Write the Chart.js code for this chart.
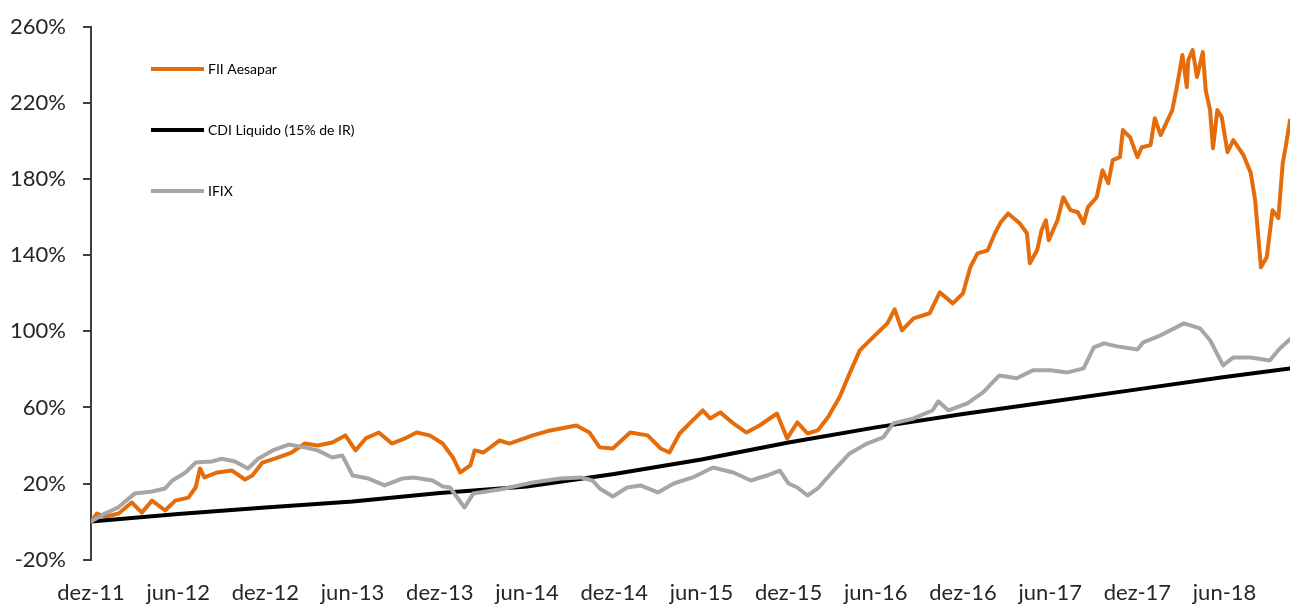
<!DOCTYPE html>
<html>
<head>
<meta charset="utf-8">
<script src="https://cdn.jsdelivr.net/npm/chart.js@4.4.1/dist/chart.umd.min.js"></script>
<style>
  html, body { margin: 0; padding: 0; background: #fff; }
  #wrap { width: 1290px; height: 606px; position: relative; }
</style>
</head>
<body>
<div id="wrap"><canvas id="chart"></canvas></div>
<script>
// x = months since dez-11, y = accumulated return in %

// Tick labels on the x axis, one every 6 months
const tickLabels = ['dez-11', 'jun-12', 'dez-12', 'jun-13', 'dez-13', 'jun-14', 'dez-14',
    'jun-15', 'dez-15', 'jun-16', 'dez-16', 'jun-17', 'dez-17', 'jun-18'];

const seriesNames = ['FII Aesapar', 'CDI Liquido (15% de IR)', 'IFIX'];
const seriesColors = ['#E46C0A', '#000000', '#A6A6A6'];

// FII Aesapar
const fiiSeries = [
    [0, 0], [0.4, 4.2], [1.0, 2.6], [1.9, 4.2], [2.8, 10], [3.5, 4.7], [4.2, 11], [5.1, 5.8],
    [5.8, 11], [6.7, 12.6], [7.2, 17.9], [7.5, 27.9], [7.8, 23.2], [8.7, 25.8], [9.7, 26.8],
    [10.6, 22.1], [11.1, 24.2], [11.8, 31], [12.7, 33.2], [13.8, 36.3], [14.7, 41], [15.6, 40],
    [16.6, 41.6], [17.5, 45.3], [18.2, 37.4], [18.9, 43.7], [19.8, 46.8], [20.7, 41], [21.6, 43.7],
    [22.4, 46.8], [23.3, 45.3], [24.2, 41], [24.9, 33.7], [25.4, 25.8], [26.1, 29.5], [26.4, 37.4],
    [27.0, 36.3], [28.1, 42.6], [28.8, 41], [30.4, 45.3], [31.6, 47.9], [33.4, 50.5], [34.3, 46.8],
    [35.0, 39], [35.9, 38.4], [37.1, 46.8], [38.3, 45.3], [39.2, 38.4], [39.8, 36.3], [40.5, 46.3],
    [41.4, 53.2], [42.1, 58.4], [42.6, 54.2], [43.3, 57.4], [44.2, 51.6], [45.1, 46.8], [46.0, 50.5],
    [47.2, 56.8], [47.9, 43.7], [48.6, 52.1], [49.3, 46.3], [50.0, 47.9], [50.7, 54.7], [51.5, 65.3],
    [52.2, 77.9], [52.9, 90], [53.8, 96.8], [54.8, 104.2], [55.3, 111.6], [55.8, 100.5], [56.6, 106.8],
    [57.7, 109.5], [58.4, 120.5], [59.3, 114.7], [60.0, 120], [60.5, 133.7], [61.0, 141], [61.7, 142.6],
    [62.2, 151.6], [62.6, 157.4], [63.1, 162], [63.9, 156.8], [64.4, 151.6], [64.6, 135.8], [65.1, 142.6],
    [65.4, 153], [65.7, 158.4], [65.9, 147.9], [66.5, 158.4], [66.9, 170.5], [67.4, 163.7], [67.9, 162.6],
    [68.3, 156.8], [68.6, 165.3], [69.2, 170.5], [69.6, 184.7], [70.0, 177.9], [70.3, 190], [70.8, 191.6],
    [71.0, 205.8], [71.5, 202], [72.0, 191.6], [72.3, 196.8], [72.9, 197.9], [73.2, 212], [73.6, 203.2],
    [74.4, 216.3], [74.7, 227.9], [75.1, 245.3], [75.4, 228.4], [75.5, 242.6], [75.8, 247.9], [76.1, 233.7],
    [76.5, 246.8], [76.7, 226.8], [77.0, 216.3], [77.2, 196.3], [77.5, 216.3], [77.8, 212.6], [78.2, 194.2],
    [78.6, 200.5], [79.3, 192.6], [79.8, 183.2], [80.1, 169], [80.5, 133.7], [80.9, 139], [81.3, 163.7],
    [81.7, 159.5], [82.0, 188.4], [82.2, 196.8], [82.5, 211]
];

// CDI Liquido (15% de IR)
const cdiSeries = [
    [0, 0], [6, 4], [12, 7.4], [18, 10.5], [24, 15], [30, 18.4], [36, 25], [42, 32.6],
    [48, 41.6], [54, 49.5], [60, 56.5], [66, 63], [72, 69.5], [78, 76], [82.5, 80.5]
];

// IFIX
const ifixSeries = [
    [0, 0], [0.96, 4.2], [1.86, 7.4], [3.0, 14.7], [4.2, 15.8], [5.1, 17.4], [5.6, 21.6], [6.5, 25.8],
    [7.2, 31], [8.3, 31.6], [9.0, 33], [9.9, 31.6], [10.8, 27.9], [11.5, 33], [12.5, 37.4], [13.6, 40.5],
    [14.7, 39], [15.6, 37.4], [16.6, 33.7], [17.3, 34.7], [18.0, 24.2], [19.1, 22.6], [20.2, 19],
    [21.4, 22.6], [22.2, 23.2], [23.5, 21.6], [24.2, 18.4], [24.7, 17.9], [25.7, 7.4], [26.3, 14.7],
    [28.1, 16.8], [30.4, 20.5], [32.3, 22.6], [33.7, 23.2], [34.5, 21.6], [35.0, 17.4], [35.9, 13.2],
    [36.9, 17.9], [37.8, 19], [39.0, 15.3], [40.1, 20], [41.4, 23.2], [42.8, 28.4], [44.2, 25.8],
    [45.4, 21.6], [46.5, 24.2], [47.4, 26.8], [48.0, 20], [48.6, 17.9], [49.3, 13.7], [50.0, 17.4],
    [51.1, 26.8], [52.2, 35.8], [53.4, 41], [54.5, 44.2], [55.2, 51.6], [56.6, 54.2], [57.9, 58.4],
    [58.3, 63.2], [59.0, 58.4], [60.3, 62.1], [61.4, 68], [62.5, 76.8], [63.7, 75.3], [64.8, 79.5],
    [66.0, 79.5], [67.2, 78.4], [68.3, 80.5], [69.0, 91.6], [69.7, 93.7], [70.6, 92.1], [72.0, 90.5],
    [72.4, 94.2], [73.6, 97.9], [75.2, 104.2], [76.3, 101.6], [77.0, 95.3], [77.9, 82.1], [78.6, 86.3],
    [79.8, 86.3], [81.1, 84.7], [81.8, 91], [82.5, 95.8]
];

const yTicks = { min: -20, max: 260, step: 40 };
const xRange = { min: 0, max: 82.5, step: 6 };

function toPoints(series) {
    return series.map(p => ({ x: p[0], y: p[1] }));
}

// Legend drawn inside the plot, top-left, stacked vertically
const insideLegend = {
    id: 'insideLegend',
    afterDraw(chart) {
        const ctx = chart.ctx;
        const area = chart.chartArea;
        ctx.save();
        ctx.font = '14px Lato';
        ctx.textBaseline = 'middle';
        seriesNames.forEach((name, i) => {
            const x = area.left + 60;
            const y = area.top + 42 + i * 61;
            ctx.strokeStyle = seriesColors[i];
            ctx.lineWidth = 4;
            ctx.beginPath();
            ctx.moveTo(x, y);
            ctx.lineTo(x + 53, y);
            ctx.stroke();
            ctx.fillStyle = '#000';
            ctx.fillText(name, x + 57, y);
        });
        ctx.restore();
    }
};

function lineDataset(i, series, order) {
    return {
        label: seriesNames[i],
        data: toPoints(series),
        borderColor: seriesColors[i],
        backgroundColor: seriesColors[i],
        borderWidth: 4,
        pointRadius: 0,
        tension: 0,
        borderJoinStyle: 'round',
        borderCapStyle: 'round',
        order: order,
    };
}

function renderChart() {
    Chart.defaults.font.family = 'Lato, "DejaVu Sans", sans-serif';
    Chart.defaults.color = '#262626';

    new Chart(document.getElementById('chart').getContext('2d'), {
        type: 'line',
        data: {
            datasets: [
                lineDataset(0, fiiSeries, 3),
                lineDataset(1, cdiSeries, 2),
                lineDataset(2, ifixSeries, 1),
            ],
        },
        options: {
            responsive: true,
            maintainAspectRatio: false,
            animation: false,
            layout: { padding: { top: 27, right: 0, bottom: -20, left: 0 } },
            plugins: {
                legend: { display: false },
                tooltip: { enabled: false },
            },
            scales: {
                x: {
                    type: 'linear',
                    min: xRange.min,
                    max: xRange.max,
                    grid: { display: false, drawTicks: false },
                    border: { display: false },
                    ticks: {
                        stepSize: xRange.step,
                        includeBounds: false,
                        autoSkip: false,
                        maxRotation: 0,
                        padding: 20,
                        font: { size: 22 },
                        callback: v => tickLabels[v / xRange.step] || '',
                    },
                },
                y: {
                    min: yTicks.min,
                    max: yTicks.max,
                    afterFit: scale => {
                        scale.width = 91;
                        scale.paddingTop = 0;
                    },
                    grid: {
                        drawOnChartArea: false,
                        drawTicks: true,
                        tickLength: 8,
                        color: '#404040',
                        lineWidth: 2,
                    },
                    border: { display: true, color: '#404040', width: 2 },
                    ticks: {
                        stepSize: yTicks.step,
                        padding: 17,
                        font: { size: 22 },
                        callback: v => v + '%',
                    },
                },
            },
        },
        plugins: [insideLegend],
    });
}

window.addEventListener('DOMContentLoaded', renderChart);
</script>
</body>
</html>
